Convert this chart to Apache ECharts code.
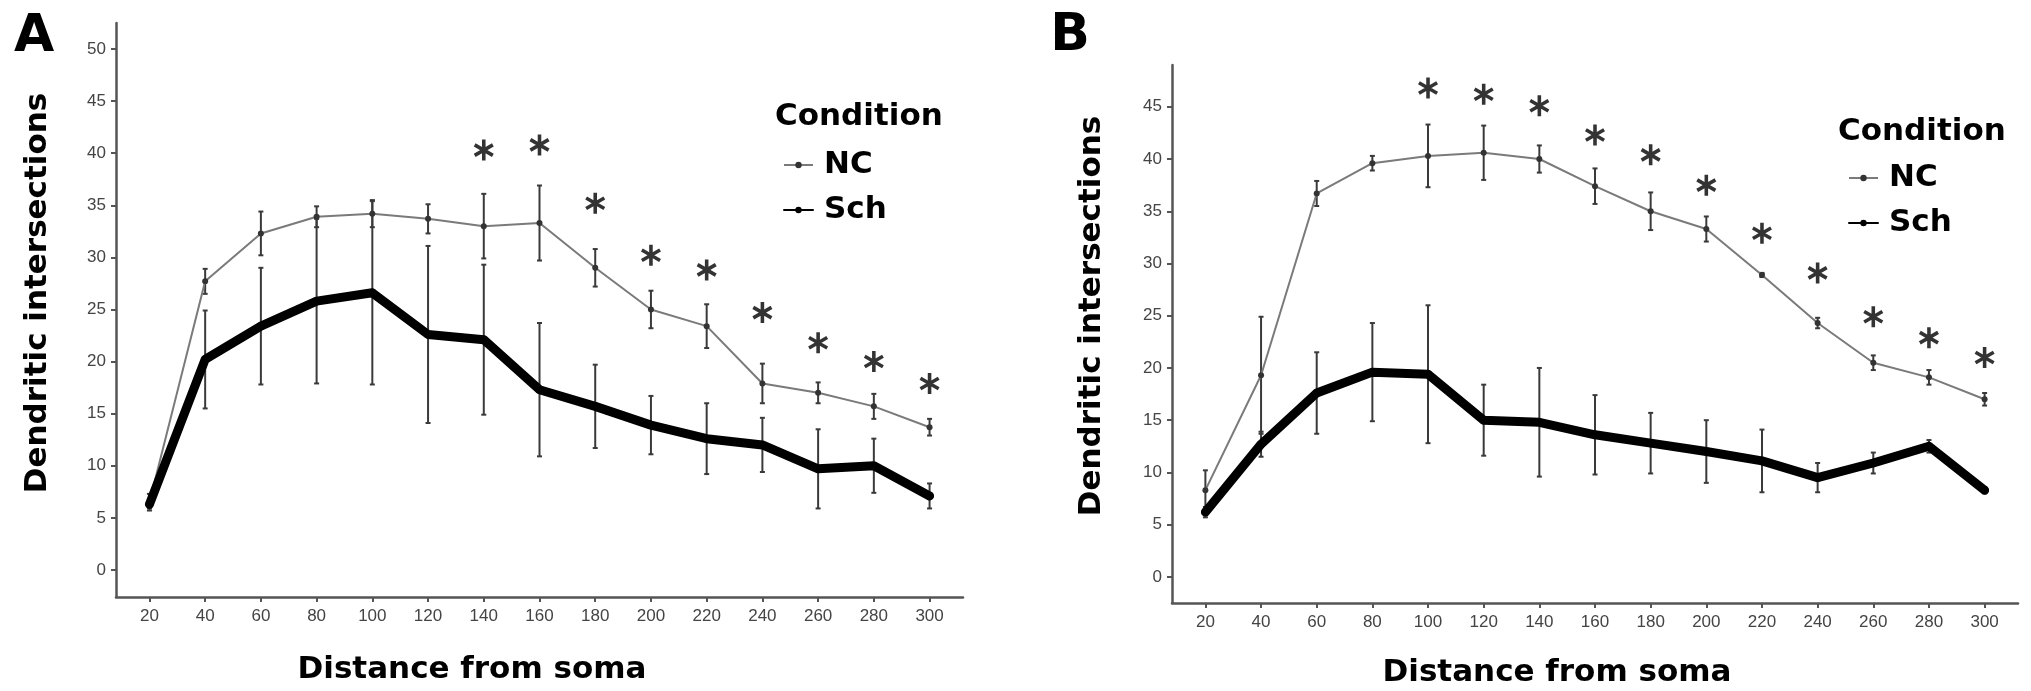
<!DOCTYPE html>
<html>
<head>
<meta charset="utf-8">
<script src="https://cdn.jsdelivr.net/npm/echarts@6/dist/echarts.min.js"></script>
<style>
html,body{margin:0;padding:0;background:#fff;}
#c{width:2031px;height:691px;}
</style>
</head>
<body>
<div id="c"></div>
<script>
// ---- data ----
const distances = [20, 40, 60, 80, 100, 120, 140, 160, 180, 200, 220, 240, 260, 280, 300];
const xTicks = [20, 40, 60, 80, 100, 120, 140, 160, 180, 200, 220, 240, 260, 280, 300];
const yTicksA = [0, 5, 10, 15, 20, 25, 30, 35, 40, 45, 50];
const yTicksB = [0, 5, 10, 15, 20, 25, 30, 35, 40, 45];

// Panel A
const ncA     = [6.5, 27.7, 32.3, 33.9, 34.2, 33.7, 33.0, 33.3, 29.0, 25.0, 23.4, 17.9, 17.0, 15.7, 13.7];
const ncAErr  = [0.8, 1.2, 2.1, 1.0, 1.3, 1.4, 3.1, 3.6, 1.8, 1.8, 2.1, 1.9, 1.0, 1.2, 0.8];
const schA    = [6.3, 20.2, 23.4, 25.8, 26.6, 22.6, 22.1, 17.3, 15.7, 13.9, 12.6, 12.0, 9.7, 10.0, 7.1];
const schAErr = [0.4, 4.7, 5.6, 7.9, 8.8, 8.5, 7.2, 6.4, 4.0, 2.8, 3.4, 2.6, 3.8, 2.6, 1.2];
const starXA  = [140, 160, 180, 200, 220, 240, 260, 280, 300];
const starYA  = [40.3, 40.8, 35.2, 30.2, 28.8, 24.7, 21.8, 20.0, 17.9];

// Panel B
const ncB     = [8.3, 19.3, 36.7, 39.6, 40.3, 40.6, 40.0, 37.4, 35.0, 33.3, 28.9, 24.3, 20.5, 19.1, 17.0];
const ncBErr  = [1.9, 5.6, 1.2, 0.7, 3.0, 2.6, 1.3, 1.7, 1.8, 1.2, 0.2, 0.5, 0.7, 0.7, 0.6];
const schB    = [6.2, 12.7, 17.6, 19.6, 19.4, 15.0, 14.8, 13.6, 12.8, 12.0, 11.1, 9.5, 10.9, 12.5, 8.3];
const schBErr = [0.5, 1.2, 3.9, 4.7, 6.6, 3.4, 5.2, 3.8, 2.9, 3.0, 3.0, 1.4, 1.0, 0.6, 0.3];
const starXB  = [100, 120, 140, 160, 180, 200, 220, 240, 260, 280, 300];
const starYB  = [46.8, 46.2, 45.1, 42.3, 40.4, 37.5, 32.9, 29.1, 24.9, 22.9, 21.0];

const panelLabels = ['A', 'B'];
const xTitle = 'Distance from soma';
const yTitle = 'Dendritic intersections';
const legendTitle = 'Condition';
const seriesNames = ['NC', 'Sch'];

// ---- helpers ----
const pairs = (xs, ys) => xs.map((x, i) => [x, ys[i]]);
const errData = (means, errs) => distances.map((d, i) => [d, means[i] - errs[i], means[i] + errs[i]]);

const AXIS_COLOR = '#555';
const TICK_FONT = 'Liberation Sans';
const BOLD_FONT = 'DejaVu Sans';

const star = 'path://M-1.7,-10L1.7,-10L1.7,10L-1.7,10Z' +
  'M7.81,-6.47L9.51,-3.53L-7.81,6.47L-9.51,3.53Z' +
  'M9.51,3.53L7.81,6.47L-9.51,-3.53L-7.81,-6.47Z';

function errSeries(name, data, idx) {
  return {
    type: 'custom', name: name, xAxisIndex: idx, yAxisIndex: idx, z: 3,
    data: data,
    encode: { x: 0, y: [1, 2] },
    renderItem: function (params, api) {
      const x = api.value(0), lo = api.value(1), hi = api.value(2);
      const t = api.coord([x, hi]), b = api.coord([x, lo]);
      const c = 2.5;
      const st = { stroke: '#3a3a3a', lineWidth: 2 };
      return {
        type: 'group', children: [
          { type: 'line', shape: { x1: t[0], y1: t[1], x2: b[0], y2: b[1] }, style: st },
          { type: 'line', shape: { x1: t[0] - c, y1: t[1], x2: t[0] + c, y2: t[1] }, style: st },
          { type: 'line', shape: { x1: b[0] - c, y1: b[1], x2: b[0] + c, y2: b[1] }, style: st }
        ]
      };
    }
  };
}

function xAxisDef(idx) {
  return {
    type: 'value', gridIndex: idx, min: 8, max: 312,
    axisLine: { show: true, onZero: false, lineStyle: { color: AXIS_COLOR, width: 2.5 } },
    axisTick: { show: true, length: 5, customValues: xTicks, lineStyle: { color: AXIS_COLOR, width: 2 } },
    axisLabel: { customValues: xTicks, margin: 11, fontSize: 17, fontFamily: TICK_FONT, color: '#444' },
    splitLine: { show: false }
  };
}
function yAxisDef(idx, min, max, ticks) {
  return {
    type: 'value', gridIndex: idx, min: min, max: max,
    axisLine: { show: true, onZero: false, lineStyle: { color: AXIS_COLOR, width: 2.5 } },
    axisTick: { show: true, length: 5, customValues: ticks, lineStyle: { color: AXIS_COLOR, width: 2 } },
    axisLabel: { customValues: ticks, margin: 10, fontSize: 17, fontFamily: TICK_FONT, color: '#444' },
    splitLine: { show: false }
  };
}
function ncLine(data, idx) {
  return {
    type: 'line', name: seriesNames[0], xAxisIndex: idx, yAxisIndex: idx, data: data, z: 4,
    symbol: 'circle', symbolSize: 6,
    lineStyle: { color: '#7a7a7a', width: 2 },
    itemStyle: { color: '#333' },
    animation: false
  };
}
function schLine(data, idx) {
  return {
    type: 'line', name: seriesNames[1], xAxisIndex: idx, yAxisIndex: idx, data: data, z: 5,
    symbol: 'circle', symbolSize: 8,
    lineStyle: { color: '#000', width: 9, join: 'round', cap: 'round' },
    itemStyle: { color: '#000' },
    animation: false
  };
}
function starSeries(data, idx) {
  return {
    type: 'scatter', name: 'sig', xAxisIndex: idx, yAxisIndex: idx, data: data, z: 6,
    symbol: star, symbolSize: [20, 21], itemStyle: { color: '#000' }, animation: false
  };
}
function legendDef(left, top) {
  return {
    data: seriesNames, orient: 'vertical', left: left, top: top,
    itemWidth: 29, itemHeight: 8, itemGap: 11,
    lineStyle: { width: 2 },
    selectedMode: false,
    textStyle: { fontSize: 31, fontWeight: 'bold', fontFamily: BOLD_FONT, color: '#000', lineHeight: 34, padding: [0, 0, 0, 6] }
  };
}
const boldText = (txt, x, y, size, align, rotation) => ({
  type: 'text', x: x, y: y, rotation: rotation || 0,
  style: {
    text: txt, fontSize: size, fontWeight: 'bold', fontFamily: BOLD_FONT,
    fill: '#000', align: align || 'center', verticalAlign: 'middle'
  }
});

const chart = echarts.init(document.getElementById('c'), null, { renderer: 'canvas' });
chart.setOption({
  backgroundColor: '#fff',
  animation: false,
  grid: [
    { left: 116, top: 23, width: 847, height: 574 },
    { left: 1172, top: 65, width: 846, height: 538 }
  ],
  xAxis: [xAxisDef(0), xAxisDef(1)],
  yAxis: [yAxisDef(0, -2.6, 52.5, yTicksA), yAxisDef(1, -2.5, 49, yTicksB)],
  legend: [legendDef(778, 143), legendDef(1843, 156)],
  series: [
    errSeries('NC err A', errData(ncA, ncAErr), 0),
    errSeries('Sch err A', errData(schA, schAErr), 0),
    ncLine(pairs(distances, ncA), 0),
    schLine(pairs(distances, schA), 0),
    starSeries(pairs(starXA, starYA), 0),
    errSeries('NC err B', errData(ncB, ncBErr), 1),
    errSeries('Sch err B', errData(schB, schBErr), 1),
    ncLine(pairs(distances, ncB), 1),
    schLine(pairs(distances, schB), 1),
    starSeries(pairs(starXB, starYB), 1)
  ],
  graphic: [
    boldText(panelLabels[0], 34, 37, 52),
    boldText(panelLabels[1], 1070, 36, 52),
    boldText(legendTitle, 775, 117, 31, 'left'),
    boldText(legendTitle, 1838, 132, 31, 'left'),
    boldText(yTitle, 38, 293, 31, 'center', Math.PI / 2),
    boldText(yTitle, 1092, 316, 31, 'center', Math.PI / 2),
    boldText(xTitle, 472, 670, 31),
    boldText(xTitle, 1557, 673, 31)
  ]
});
</script>
</body>
</html>
